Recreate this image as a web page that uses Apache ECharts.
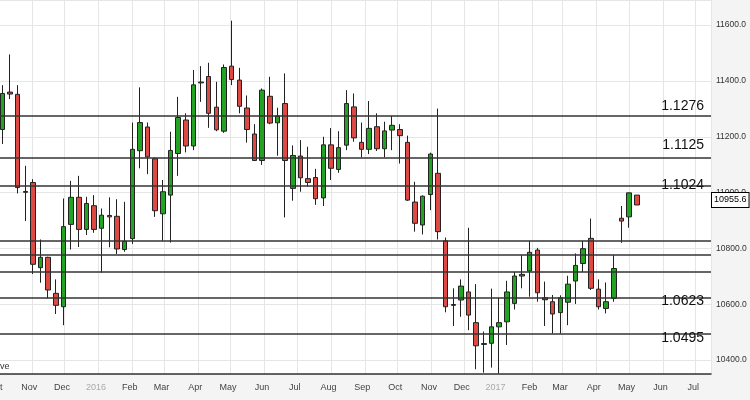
<!DOCTYPE html>
<html>
<head>
<meta charset="utf-8">
<script src="https://cdn.jsdelivr.net/npm/echarts@6/dist/echarts.min.js"></script>
<style>
html,body{margin:0;padding:0;background:#f4f4f4;}
#c{width:750px;height:400px;}
</style>
</head>
<body>
<div id="c"></div>
<script>
// Weekly candles (week start, Monday)
const weeks = [
'2015-10-05','2015-10-12','2015-10-19','2015-10-26','2015-11-02','2015-11-09','2015-11-16','2015-11-23','2015-11-30','2015-12-07','2015-12-14','2015-12-21','2015-12-28',
'2016-01-04','2016-01-11','2016-01-18','2016-01-25','2016-02-01','2016-02-08','2016-02-15','2016-02-22','2016-02-29','2016-03-07','2016-03-14','2016-03-21','2016-03-28',
'2016-04-04','2016-04-11','2016-04-18','2016-04-25','2016-05-02','2016-05-09','2016-05-16','2016-05-23','2016-05-30','2016-06-06','2016-06-13','2016-06-20','2016-06-27',
'2016-07-04','2016-07-11','2016-07-18','2016-07-25','2016-08-01','2016-08-08','2016-08-15','2016-08-22','2016-08-29','2016-09-05','2016-09-12','2016-09-19','2016-09-26',
'2016-10-03','2016-10-10','2016-10-17','2016-10-24','2016-10-31','2016-11-07','2016-11-14','2016-11-21','2016-11-28','2016-12-05','2016-12-12','2016-12-19','2016-12-26',
'2017-01-02','2017-01-09','2017-01-16','2017-01-23','2017-01-30','2017-02-06','2017-02-13','2017-02-20','2017-02-27','2017-03-06','2017-03-13','2017-03-20','2017-03-27',
'2017-04-03','2017-04-10','2017-04-17','2017-04-24','2017-05-01','2017-05-08'
];
const opens = [
11226,11360,11352,11004,11036,10731,10768,10639,10591,10886,10983,10868,10953,10872,10918,10915,10796,10835,11150,11235,
11121,10924,10991,11140,11260,11167,11393,11416,11306,11220,11453,11403,11303,11210,11115,11345,11250,11319,11015,11131,
11050,11054,10981,11171,11083,11170,11307,11180,11155,11236,11157,11224,11226,11180,10966,10884,10993,11069,10827,10599,
10615,10644,10534,10456,10460,10519,10537,10603,10701,10719,10794,10623,10609,10570,10607,10683,10746,10836,10654,10585,
10621,10908,10913,10991
];
const closes = [
11355,11353,11018,11001,10743,10768,10651,10596,10878,10983,10868,10961,10868,10919,10913,10798,10825,11155,11251,11128,
10935,11003,11151,11269,11167,11386,11396,11284,11225,11448,11405,11309,11226,11115,11367,11249,11274,11115,11133,11053,
11036,10978,11171,11087,11161,11319,11196,11155,11230,11157,11221,11241,11204,10973,10890,10987,11138,10860,10591,10596,
10665,10561,10451,10459,10519,10534,10644,10701,10707,10786,10641,10616,10565,10623,10672,10739,10799,10657,10591,10609,
10728,10898,10999,10955.6
];
const lows = [
11174,11335,10997,10898,10708,10677,10621,10565,10525,10796,10805,10848,10856,10713,10804,10780,10788,10816,11087,11066,
10913,10827,10821,11060,11144,11152,11325,11232,11220,11214,11385,11284,11179,11113,11099,11245,11132,10911,10971,11003,
11021,10956,10952,11045,11071,11152,11182,11126,11138,11149,11126,11152,11104,10970,10860,10850,10937,10832,10571,10522,
10555,10507,10367,10355,10373,10352,10454,10581,10657,10627,10609,10522,10495,10495,10525,10601,10716,10651,10581,10567,
10609,10820,10874,10955.6
];
const highs = [
11385,11495,11385,11096,11048,10832,10770,10689,10979,11042,11060,10985,10991,10943,10983,10976,10967,11251,11377,11251,
11126,11045,11218,11343,11284,11439,11453,11465,11397,11459,11616,11447,11348,11245,11373,11415,11304,11427,11169,11188,
11164,11085,11200,11231,11220,11367,11355,11251,11328,11284,11254,11275,11245,11204,11039,10990,11143,11301,10839,10657,
10689,10874,10672,10502,10656,10623,10684,10716,10776,10827,10802,10681,10633,10632,10702,10782,10827,10907,10689,10678,
10776,10952,11000,10991
];
// Support / resistance levels
const levelValues = [11276, 11125, 11024, 10828, 10776, 10718, 10623, 10495];
const levelLabels = ['1.1276', '1.1125', '1.1024', '', '', '', '1.0623', '1.0495'];
const lastPrice = 10955.6;
const monthNames = ['Jan','Feb','Mar','Apr','May','Jun','Jul','Aug','Sep','Oct','Nov','Dec'];
const footerText = 've';

const smallFont = "'Liberation Sans', Arial, sans-serif";
const DAY = 86400000;

const candles = weeks.map((w, i) => [w, opens[i], closes[i], lows[i], highs[i]]);

const labelPlacement = [
  { position: 'insideEndTop', distance: [7, 2] },
  { position: 'insideEndTop', distance: [7, 6] },
  { position: 'insideEndTop', distance: [7, -6] },
  { position: 'insideEndTop', distance: [7, 2] },
  { position: 'insideEndTop', distance: [7, 2] },
  { position: 'insideEndTop', distance: [7, 2] },
  { position: 'insideEndBottom', distance: [7, -3.5] },
  { position: 'insideEndBottom', distance: [7, -2] }
];

const levelLines = levelValues.map((v, i) => ({
  yAxis: v,
  label: Object.assign({
    show: levelLabels[i] !== '',
    formatter: levelLabels[i]
  }, labelPlacement[i])
}));
levelLines.push({
  yAxis: lastPrice,
  lineStyle: { color: 'rgba(0,0,0,0)', width: 0 },
  label: {
    show: true,
    position: 'end',
    distance: [1, 0],
    offset: [0, -5],
    formatter: lastPrice.toFixed(1),
    backgroundColor: '#fff',
    borderColor: '#000',
    borderWidth: 1,
    padding: [3, 2, 2, 2],
    fontFamily: smallFont,
    fontSize: 9,
    color: '#000',
    opacity: 1
  }
});

const chart = echarts.init(document.getElementById('c'), null, { renderer: 'canvas' });
chart.setOption({
  animation: false,
  backgroundColor: '#f4f4f4',
  grid: {
    left: -2, right: 39, top: 0, bottom: 26,
    show: true, backgroundColor: '#ffffff', borderWidth: 0,
    containLabel: false, outerBoundsMode: 'none'
  },
  graphic: [{
    type: 'text', left: 0, top: 362,
    style: { text: footerText, font: "9px 'Liberation Sans', Arial, sans-serif", fill: '#333' }
  }],
  xAxis: {
    type: 'time',
    min: '2015-10-01',
    max: '2017-07-15',
    splitNumber: 16,
    minInterval: 40 * DAY,
    maxInterval: 40 * DAY,
    axisLine: { show: true, lineStyle: { color: '#333', width: 1.5 } },
    axisTick: { show: false },
    axisLabel: {
      margin: 9,
      fontFamily: smallFont,
      fontSize: 9,
      color: '#444',
      padding: [0, 5, 0, 0],
      showMinLabel: true,
      showMaxLabel: false,
      hideOverlap: false,
      formatter: function (val) {
        const d = new Date(val);
        if (d.getDate() !== 1 || d.getHours() !== 0) return '';
        const m = d.getMonth();
        return m === 0 ? '{yr|' + d.getFullYear() + '}' : monthNames[m];
      },
      rich: { yr: { color: '#aaaaaa', fontFamily: smallFont, fontSize: 9 } }
    },
    splitLine: { show: true, lineStyle: { color: '#e6e6e6', width: 1 } }
  },
  yAxis: {
    type: 'value',
    position: 'right',
    min: 10350,
    max: 11690,
    splitNumber: 7,
    axisLine: { show: false },
    axisTick: { show: false },
    axisLabel: {
      margin: 5,
      fontFamily: smallFont,
      fontSize: 8.5,
      color: '#333',
      showMinLabel: false,
      showMaxLabel: false,
      formatter: v => v.toFixed(1)
    },
    splitLine: { show: true, lineStyle: { color: '#e6e6e6', width: 1 } }
  },
  series: [{
    type: 'candlestick',
    data: candles,
    barWidth: 5,
    itemStyle: {
      color: '#22a322',
      color0: '#dc4a43',
      borderColor: '#222',
      borderColor0: '#222',
      borderWidth: 1
    },
    markLine: {
      silent: true,
      animation: false,
      symbol: ['none', 'none'],
      lineStyle: { color: '#333', width: 1.5, type: 'solid' },
      label: { fontFamily: "'Liberation Sans', Arial, sans-serif", fontSize: 14, color: '#111' },
      emphasis: { disabled: true },
      data: levelLines
    }
  }]
});
</script>
</body>
</html>
